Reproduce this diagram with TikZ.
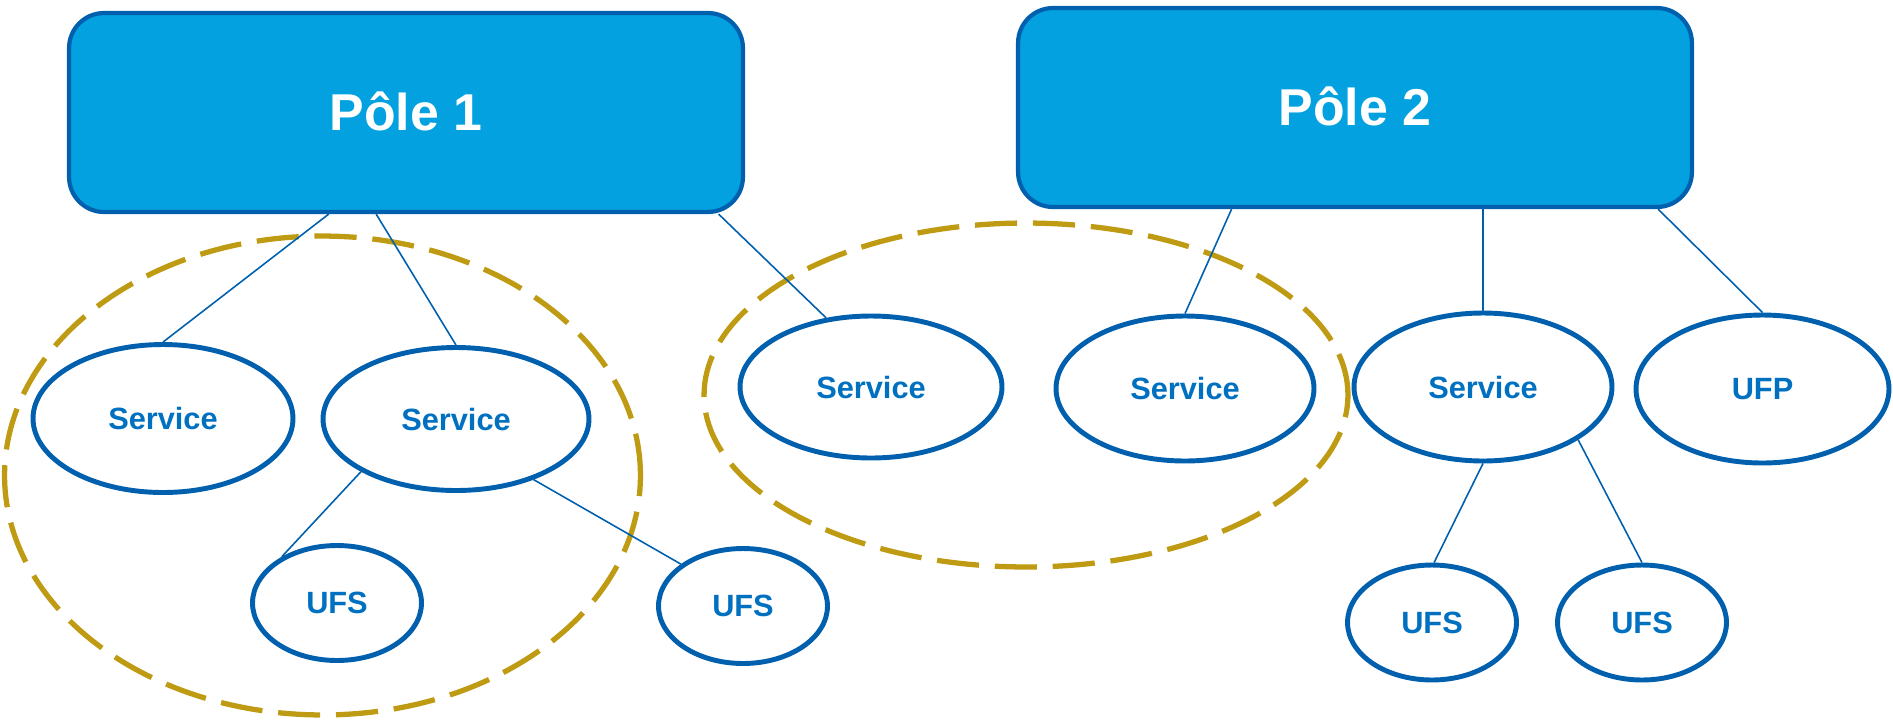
\documentclass[tikz,border=0pt]{standalone}
\usepackage{fontspec}
\setmainfont{Liberation Sans}
\usetikzlibrary{calc,shapes.geometric}

\definecolor{polefill}{RGB}{3,161,223}
\definecolor{lineblue}{RGB}{0,96,174}
\definecolor{textblue}{RGB}{0,112,192}
\definecolor{groupgold}{RGB}{191,155,20}

\begin{document}
\begin{tikzpicture}[x=0.02cm, y=-0.02cm,
	pole/.style={draw=lineblue, line width=2.4pt, fill=polefill, rounded corners=0.7cm,
		minimum width=13.48cm, minimum height=3.98cm, inner sep=0pt, text depth=0.2em,
		text=white, font=\bfseries\fontsize{29.5}{36}\selectfont},
	unit/.style={ellipse, draw=lineblue, line width=2.8pt, fill=white, inner sep=0pt,
		text=textblue, font=\bfseries\fontsize{17.5}{21}\selectfont},
	service/.style={unit, minimum width=5.2cm, minimum height=2.9cm},
	ufs/.style={unit, minimum width=3.38cm, minimum height=2.3cm},
	link/.style={draw=lineblue, line width=0.9pt},
	group/.style={draw=groupgold, line width=3pt, dash pattern=on 24pt off 9pt}]
	%%%%% START %%%%%
	
	\useasboundingbox (0, 0) rectangle (1893, 721);
	
	% regroupements
	\draw[group] (322.5, 475.5) ellipse [x radius=6.36cm, y radius=4.79cm];
	\draw[group] (1026, 395) ellipse [x radius=6.44cm, y radius=3.44cm];
	
	% poles
	\node[pole] (pole1) at (406, 112.5) {Pôle 1};
	\node[pole] (pole2) at (1355, 107.5) {Pôle 2};
	
	% services et unites du pole 1
	\node[service, minimum height=2.96cm] (s1) at (163, 418.5) {Service};
	\node[service, minimum width=5.32cm, minimum height=2.86cm] (s2) at (456, 419) {Service};
	\node[ufs] (ufs1) at (337, 603) {UFS};
	\node[ufs] (ufs2) at (743, 606) {UFS};
	\node[service, minimum width=5.24cm, minimum height=2.84cm] (s3) at (871, 387) {Service};
	
	% services et unites du pole 2
	\node[service, minimum width=5.16cm] (s4) at (1185, 388.5) {Service};
	\node[service, minimum width=5.16cm, minimum height=2.96cm] (s5) at (1483, 387) {Service};
	\node[service, minimum width=5.06cm, minimum height=2.96cm] (ufp) at (1762.5, 389) {UFP};
	\node[ufs] (ufs3) at (1432, 622.5) {UFS};
	\node[ufs] (ufs4) at (1642, 622.5) {UFS};
	
	% liens
	\draw[link] ($(pole1.south west)!.386!(pole1.south east)$) -- (s1.north);
	\draw[link] ($(pole1.south west)!.456!(pole1.south east)$) -- (s2.north);
	\draw[link] ($(pole1.south west)!.961!(pole1.south east)$) -- (s3.123);
	\draw[link] (s2.209) -- (ufs1.140);
	\draw[link] (s2.-38) -- (ufs2.146);
	
	\draw[link] ($(pole2.south west)!.318!(pole2.south east)$) -- (s4.north);
	\draw[link] (s5.north |- pole2.south) -- (s5.north);
	\draw[link] ($(pole2.south west)!.947!(pole2.south east)$) -- (ufp.north);
	\draw[link] (s5.south) -- (ufs3.88);
	\draw[link] (s5.-29) -- (ufs4.north);
	
	%%%%% END %%%%%
\end{tikzpicture}
\end{document}
